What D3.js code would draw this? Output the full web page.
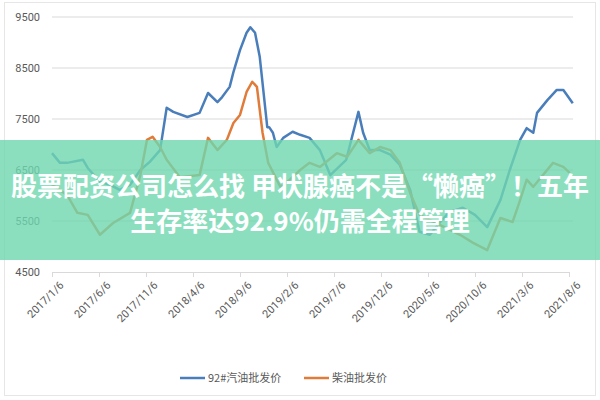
<!DOCTYPE html>
<html><head><meta charset="utf-8">
<script src="https://cdn.jsdelivr.net/npm/d3@7"></script>
<style>body{margin:0;background:#fff;font-family:"Noto Sans CJK SC","Microsoft YaHei",sans-serif}</style>
</head><body><div id="chart"></div>
<script>
// months after 2017/1/6, and price
var tickLabels = ["2017/1/6","2017/6/6","2017/11/6","2018/4/6","2018/9/6","2019/2/6","2019/7/6","2019/12/6","2020/5/6","2020/10/6","2021/3/6","2021/8/6"];
var gasMonths = [0,0.85,1.6,3.3,3.8,5.1,6.2,7.2,8.3,9.4,10.4,11.5,12.2,12.9,14.4,15.7,16.6,17.6,18.1,18.9,19.3,20,20.7,21.1,21.6,22.1,22.9,23.1,23.5,23.9,24.6,25.6,26.4,27.4,28.5,29.6,31.3,32.6,33.1,33.8,34.9,36,37,38.1,39.1,40.2,41.3,42.3,43.7,45,46.3,47.7,48.7,49.8,50.5,51.2,51.6,52.7,53.7,54.4,55.4];
var gasValues = [6830,6640,6640,6700,6540,6270,6210,6110,6210,6500,6660,6890,7720,7640,7540,7620,8010,7830,7930,8130,8420,8850,9190,9300,9190,8720,7340,7340,7230,6950,7130,7250,7190,7130,6890,6400,6700,7640,7230,6890,6890,6800,6600,6110,5290,5230,5480,5680,5760,5620,5380,5910,6500,7090,7320,7230,7620,7870,8070,8070,7810];
var dieselMonths = [0,1.6,2.7,3.8,5.1,6.5,8.3,9.4,10.1,10.7,11.5,12.2,13.6,15.7,16.6,17.6,18.6,19.3,20,20.7,21.3,21.8,22.4,23,24.3,25.3,26.4,27.4,28.5,30.3,31.4,32.6,33.8,34.9,36,37,38.1,39.1,41.3,43.4,44.8,46.3,47.7,49,49.8,50.5,51.2,53.3,54.4,55.1];
var dieselValues = [6210,6010,5660,5620,5230,5460,5660,6400,7090,7150,6950,6700,6360,6400,7130,6890,7090,7420,7580,8030,8230,8130,7230,6640,6170,6310,6500,6640,6560,6830,6760,7090,6830,6950,6890,6640,6050,5620,5420,5230,5070,4930,5560,5480,5910,6310,6170,6640,6560,6440];
var yTicks = [4500,5500,6500,7500,8500,9500];
var seriesNames = ["92#汽油批发价","柴油批发价"];
var seriesColors = ["#4a7ebb","#e07b39"];

var svg = d3.select("#chart").append("svg").attr("width",600).attr("height",400);
svg.append("rect").attr("x",4.5).attr("y",2.5).attr("width",591).attr("height",393)
  .attr("fill","#fff").attr("stroke","#e6e6e6");

var x = d3.scaleLinear().domain([0,55]).range([52,569]);
var y = d3.scaleLinear().domain([4500,9500]).range([272,17]);

// grid + y labels
svg.selectAll(".grid").data(yTicks.slice(1)).enter().append("line")
  .attr("x1",52).attr("x2",573).attr("y1",d=>y(d)).attr("y2",d=>y(d))
  .attr("stroke","#d9d9d9");
svg.selectAll(".yl").data(yTicks).enter().append("text")
  .attr("x",40).attr("y",d=>y(d)+4).attr("text-anchor","end")
  .attr("font-size",11).attr("fill","#595959").attr("font-family","Roboto,sans-serif").text(d=>d);

// x axis
var xAxis = d3.axisBottom(x).tickValues(d3.range(0,56,5)).tickFormat((d,i)=>tickLabels[i]).tickSize(5).tickSizeOuter(0);
var gx = svg.append("g").attr("transform","translate(0,272)").call(xAxis);
gx.select(".domain").attr("stroke","#d9d9d9");
gx.selectAll(".tick line").attr("stroke","#d9d9d9");
gx.selectAll("text").attr("fill","#595959").attr("font-size",11).attr("font-family","Roboto,sans-serif")
  .attr("text-anchor","end").attr("transform","translate(4,6) rotate(-45)").attr("dy","0.3em");

var line = d3.line().x(d=>x(d[0])).y(d=>y(d[1]));
[[gasMonths,gasValues],[dieselMonths,dieselValues]].forEach(function(s,i){
  svg.append("path").datum(d3.zip(s[0],s[1])).attr("d",line)
    .attr("fill","none").attr("stroke",seriesColors[i]).attr("stroke-width",2.5).attr("stroke-linejoin","round");
});

// legend
var lg = svg.selectAll(".lg").data(seriesNames).enter().append("g")
  .attr("transform",(d,i)=>`translate(${[180,304][i]},378)`);
lg.append("line").attr("x1",0).attr("x2",25).attr("stroke",(d,i)=>seriesColors[i]).attr("stroke-width",2.5);
lg.append("text").attr("x",28).attr("y",4).attr("font-size",11).attr("fill","#595959").text(d=>d);

// banner overlay
svg.append("rect").attr("x",0).attr("y",140).attr("width",600).attr("height",120)
  .attr("fill","rgb(110,215,175)").attr("opacity",0.8);
svg.selectAll(".bt").data(["股票配资公司怎么找 甲状腺癌不是“懒癌”！五年","生存率达92.9%仍需全程管理"]).enter().append("text")
  .attr("x",300).attr("y",(d,i)=>196+i*35).attr("text-anchor","middle")
  .attr("font-size",26).attr("font-weight","bold").attr("fill","#fff").text(d=>d);
</script></body></html>
